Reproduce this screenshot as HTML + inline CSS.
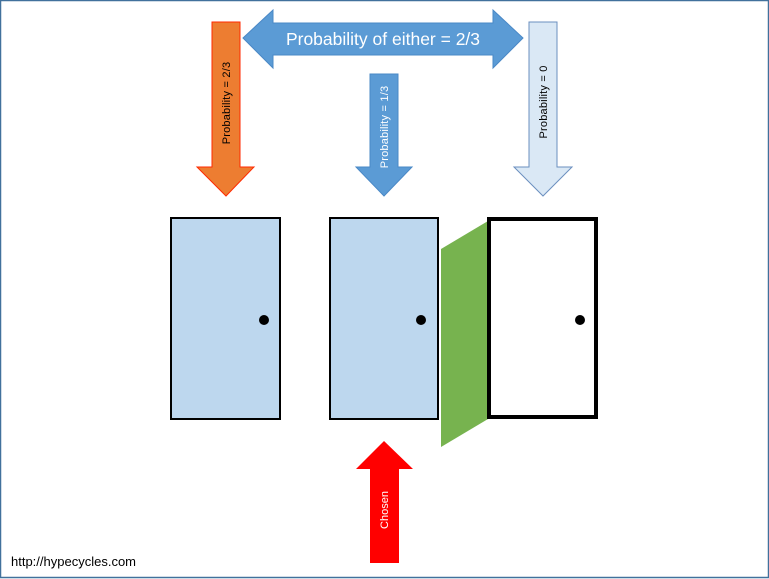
<!DOCTYPE html>
<html><head><meta charset="utf-8"><style>
html,body{margin:0;padding:0;background:#fff;}
svg{display:block;}
</style></head><body>
<svg width="769" height="579" viewBox="0 0 769 579" xmlns="http://www.w3.org/2000/svg" font-family="Liberation Sans, sans-serif">
<rect x="0.5" y="0.5" width="768" height="577" fill="#fff" stroke="#41719c" stroke-width="1.5"/>
<!-- double arrow -->
<polygon points="243,38 273,10 273,23 493,23 493,10 523,38 493,68 493,55 273,55 273,68" fill="#5b9bd5" stroke="#4a88c6" stroke-width="1"/>
<text x="383" y="45" text-anchor="middle" font-size="17.5" fill="#fff">Probability of either = 2/3</text>
<!-- orange arrow -->
<polygon points="212,22 240,22 240,167 254,167 226,196 197,167 212,167" fill="#ed7d31" stroke="#ff2a00" stroke-width="1"/>
<text transform="translate(230,103) rotate(-90)" text-anchor="middle" font-size="11" letter-spacing="0.2" fill="#000">Probability = 2/3</text>
<!-- blue mid arrow -->
<polygon points="370,74 398,74 398,167 412,167 384,196 356,167 370,167" fill="#5b9bd5" stroke="#4a88c6" stroke-width="1"/>
<text transform="translate(388,127) rotate(-90)" text-anchor="middle" font-size="11" letter-spacing="0.2" fill="#fff">Probability = 1/3</text>
<!-- light arrow -->
<polygon points="529,22 557,22 557,167 572,167 543,196 514,167 529,167" fill="#dae8f5" stroke="#6b8fbf" stroke-width="1"/>
<text transform="translate(547,102) rotate(-90)" text-anchor="middle" font-size="11" letter-spacing="0.2" fill="#000">Probability = 0</text>
<!-- doors -->
<rect x="171" y="218" width="109" height="201" fill="#bdd7ee" stroke="#000" stroke-width="2"/>
<circle cx="264" cy="320" r="5" fill="#000"/>
<rect x="330" y="218" width="108" height="201" fill="#bdd7ee" stroke="#000" stroke-width="2"/>
<circle cx="421" cy="320" r="5" fill="#000"/>
<polygon points="441,249 488,221 488,419 441,447" fill="#77b34f"/>
<rect x="489" y="219" width="107" height="198" fill="#fff" stroke="#000" stroke-width="4"/>
<circle cx="580" cy="320" r="5" fill="#000"/>
<!-- chosen -->
<polygon points="384,441 413,469 399,469 399,563 370,563 370,469 356,469" fill="#ff0000"/>
<text transform="translate(388,510) rotate(-90)" text-anchor="middle" font-size="11" fill="#fff">Chosen</text>
<text x="11" y="566" font-size="13" fill="#000">http://hypecycles.com</text>
</svg>
</body></html>
